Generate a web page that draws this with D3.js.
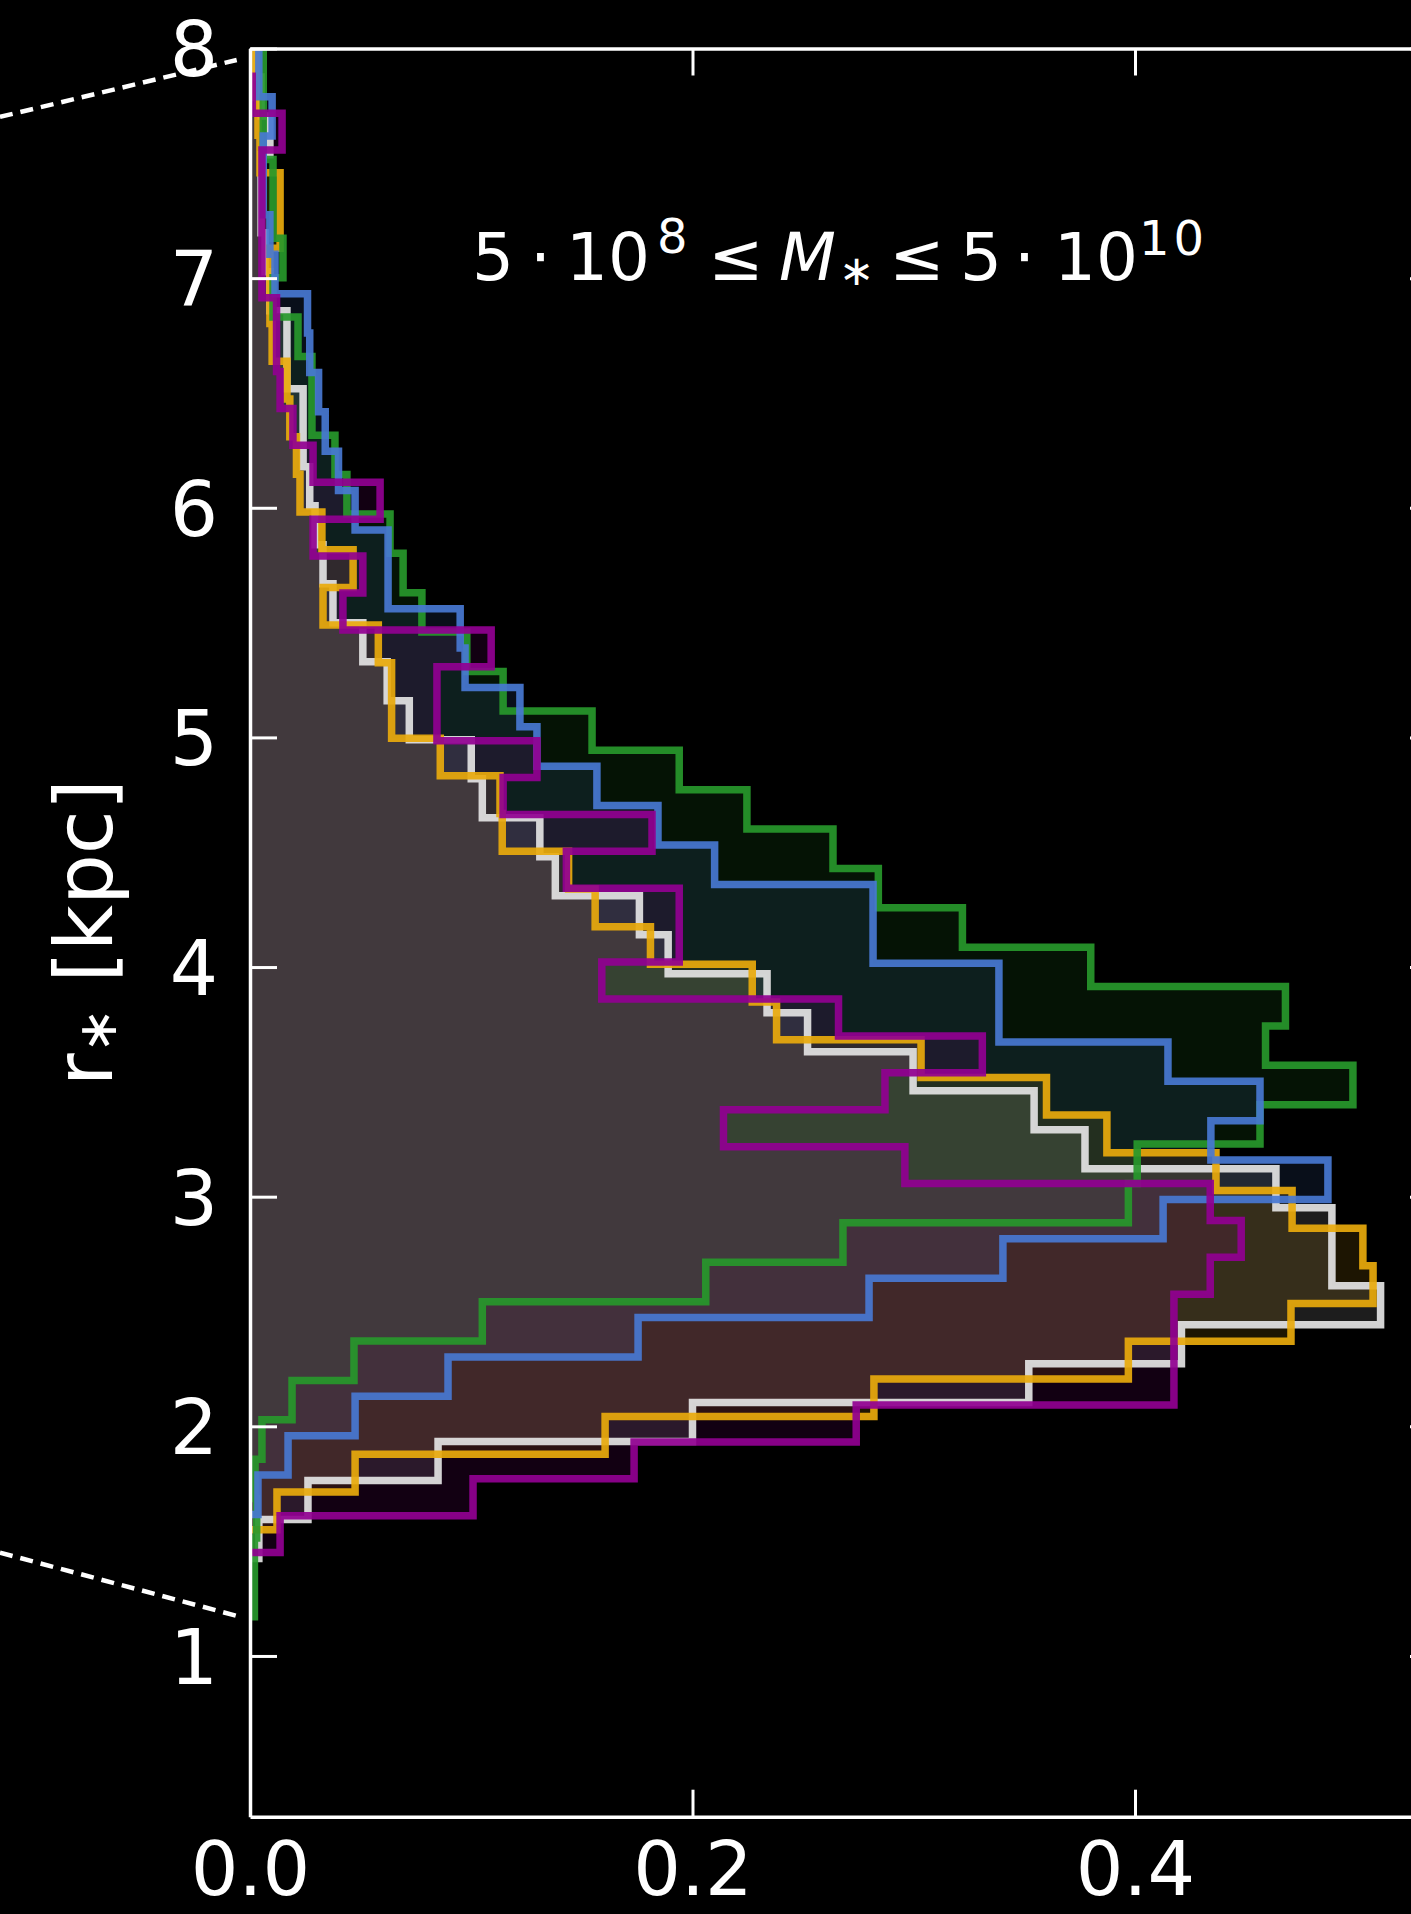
<!DOCTYPE html>
<html>
<head>
<meta charset="utf-8">
<script src="https://cdn.jsdelivr.net/npm/d3@7"></script>
<style>
  html, body { margin: 0; padding: 0; background: #000; }
  svg { display: block; }
</style>
</head>
<body>
<script>
// Radial distribution r* of five samples, each binned into 40 equal bins
// between that sample's own minimum and maximum radius (kpc).
const seriesNames  = ["white", "orange", "green", "blue", "purple"];
const seriesColors = ["#e4e4e4", "#e9aa0c", "#27982b", "#4878d3", "#910091"];
const rangeMin = [1.424, 1.550, 1.171, 1.616, 1.450];
const rangeMax = [8.216, 8.115, 8.031, 8.476, 7.879];

const whiteValues = [0.004, 0.0262, 0.085, 0.200, 0.352, 0.421, 0.511, 0.489, 0.489, 0.4637,
  0.3774, 0.3544, 0.2997, 0.252, 0.2337, 0.189, 0.176, 0.138, 0.131, 0.105,
  0.100, 0.072, 0.062, 0.051, 0.0375, 0.033, 0.0294, 0.027, 0.024, 0.024,
  0.0167, 0.0167, 0.009, 0.0068, 0.005, 0.005, 0.009, 0.005, 0.003, 0.002];
const orangeValues = [0.0122, 0.0475, 0.1605, 0.282, 0.397, 0.4705, 0.5076, 0.503, 0.471, 0.4366,
  0.3873, 0.360, 0.3033, 0.238, 0.227, 0.181, 0.156, 0.144, 0.114, 0.113,
  0.086, 0.064, 0.064, 0.058, 0.033, 0.0466, 0.0325, 0.0226, 0.021, 0.018,
  0.0167, 0.010, 0.009, 0.009, 0.0136, 0.0136, 0.0045, 0.0036, 0.0023, 0.0023];
const greenValues = [0.002, 0.002, 0.003, 0.0023, 0.0054, 0.019, 0.047, 0.105, 0.206, 0.268,
  0.397, 0.401, 0.4565, 0.4985, 0.459, 0.468, 0.380, 0.322, 0.284, 0.2635,
  0.2246, 0.194, 0.1546, 0.1144, 0.098, 0.0777, 0.0692, 0.0633, 0.0438, 0.0384,
  0.028, 0.028, 0.0217, 0.0104, 0.0149, 0.0104, 0.0104, 0.006, 0.006, 0.006];
const blueValues = [0.0036, 0.0172, 0.0475, 0.0895, 0.1754, 0.2798, 0.3403, 0.4127, 0.4872, 0.4343,
  0.4565, 0.4149, 0.3385, 0.3385, 0.2816, 0.2816, 0.210, 0.1844, 0.1568, 0.1297,
  0.122, 0.0972, 0.095, 0.0624, 0.0624, 0.0475, 0.040, 0.034, 0.031, 0.027,
  0.026, 0.0113, 0.009, 0.006, 0.006, 0.010, 0.004, 0.004, 0.003, 0.002];
const purpleValues = [0.0136, 0.1008, 0.1736, 0.274, 0.4176, 0.4176, 0.4176, 0.434, 0.448, 0.434,
  0.296, 0.214, 0.287, 0.331, 0.266, 0.159, 0.194, 0.194, 0.143, 0.1817,
  0.1144, 0.1297, 0.0845, 0.0845, 0.109, 0.042, 0.051, 0.0285, 0.0588, 0.0285,
  0.0194, 0.0136, 0.012, 0.012, 0.0054, 0.0054, 0.0054, 0.0054, 0.0145, 0.001];
const seriesValues = [whiteValues, orangeValues, greenValues, blueValues, purpleValues];

const xTicks = [0.0, 0.2, 0.4];
const yTicks = [1, 2, 3, 4, 5, 6, 7, 8];
const xDomain = [0, 0.5365];
const yDomain = [0.3, 8];

// zoom connectors coming in from the neighbouring panel on the left
const connectorTop    = [[-0.113, 7.702], [-0.006, 7.95]];
const connectorBottom = [[-0.113, 1.450], [-0.003, 1.167]];

const W = 1411, H = 1914;
const plot = { left: 250, right: 1437, top: 48.5, bottom: 1816.7 };
const FONT = "'DejaVu Sans', sans-serif";

const x = d3.scaleLinear().domain(xDomain).range([plot.left, plot.right]);
const y = d3.scaleLinear().domain(yDomain).range([plot.bottom, plot.top]);

const svg = d3.select("body").append("svg")
  .attr("width", W).attr("height", H)
  .attr("viewBox", `0 0 ${W} ${H}`);

svg.append("rect").attr("width", W).attr("height", H).attr("fill", "#000");

svg.append("defs").append("clipPath").attr("id", "plot-clip")
  .append("rect")
  .attr("x", plot.left).attr("y", plot.top)
  .attr("width", plot.right - plot.left).attr("height", plot.bottom - plot.top);

// step outline of a horizontal histogram: starts and ends on the x = 0 axis
function stepPoints(values, lo, hi) {
  const n = values.length;
  const edges = d3.range(n + 1).map(k => lo + k * (hi - lo) / n);
  const pts = [[0, edges[0]]];
  values.forEach((v, k) => { pts.push([v, edges[k]]); pts.push([v, edges[k + 1]]); });
  pts.push([0, edges[n]]);
  return pts;
}
const stepLine = d3.line().x(d => x(d[0])).y(d => y(d[1]));

const hist = svg.append("g").attr("clip-path", "url(#plot-clip)");
const shapes = seriesNames.map((name, i) => ({
  name, color: seriesColors[i],
  pts: stepPoints(seriesValues[i], rangeMin[i], rangeMax[i])
}));

hist.selectAll("path.fill").data(shapes).join("path")
  .attr("class", d => "fill " + d.name)
  .attr("d", d => stepLine(d.pts) + "Z")
  .attr("fill", d => d.color)
  .attr("fill-opacity", 0.125)
  .attr("stroke", "none");

hist.selectAll("path.edge").data(shapes).join("path")
  .attr("class", d => "edge " + d.name)
  .attr("d", d => stepLine(d.pts))
  .attr("fill", "none")
  .attr("stroke", d => d.color)
  .attr("stroke-opacity", 0.92)
  .attr("stroke-width", 7.5)
  .attr("stroke-linejoin", "miter");

// axes: ticks point inwards on all four sides
const TICK = 27;
function styleAxis(g) {
  g.select(".domain").attr("stroke", "#fff").attr("stroke-width", 3.5);
  g.selectAll(".tick line").attr("stroke", "#fff").attr("stroke-width", 3);
  g.selectAll(".tick text").attr("fill", "#fff")
    .style("font-family", FONT).style("font-size", "76px");
}

svg.append("g").attr("transform", `translate(0,${plot.bottom})`)
  .call(d3.axisBottom(x).tickValues(xTicks).tickFormat(d3.format(".1f"))
    .tickSizeInner(-TICK).tickSizeOuter(0).tickPadding(25))
  .call(styleAxis)
  .call(g => g.selectAll(".tick text").style("font-size", "75px"));

svg.append("g").attr("transform", `translate(0,${plot.top})`)
  .call(d3.axisTop(x).tickValues(xTicks).tickFormat("")
    .tickSizeInner(-TICK).tickSizeOuter(0))
  .call(styleAxis);

svg.append("g").attr("transform", `translate(${plot.left},0)`)
  .call(d3.axisLeft(y).tickValues(yTicks).tickFormat(d3.format("d"))
    .tickSizeInner(-TICK).tickSizeOuter(0).tickPadding(32))
  .call(styleAxis)
  .call(g => g.selectAll(".tick text").attr("dy", "0.36em"));

svg.append("g").attr("transform", `translate(${plot.right},0)`)
  .call(d3.axisRight(y).tickValues(yTicks).tickFormat("")
    .tickSizeInner(-TICK).tickSizeOuter(0))
  .call(styleAxis);

// y-axis label
const ylab = svg.append("text")
  .attr("transform", `translate(112,${(plot.top + plot.bottom) / 2}) rotate(-90)`)
  .attr("text-anchor", "middle")
  .attr("fill", "#fff")
  .style("font-family", FONT).style("font-size", "80px");
ylab.append("tspan").text("r");
ylab.append("tspan").attr("font-size", "54px").attr("dy", "4").text("\u2217");
ylab.append("tspan").attr("dy", "-4").text(" [kpc]");

// mass-range annotation
const note = svg.append("g").attr("fill", "#fff").style("font-family", FONT);
const notePieces = [
  { t: "5",      x: 472,   y: 280, size: 66, anchor: "start" },
  { t: "\u22C5", x: 540.5, y: 280, size: 66, anchor: "middle" },
  { t: "10",     x: 566,   y: 280, size: 66, anchor: "start" },
  { t: "8",      x: 657,   y: 253, size: 48, anchor: "start" },
  { t: "\u2264", x: 736,   y: 280, size: 66, anchor: "middle" },
  { t: "M",      x: 779,   y: 280, size: 66, anchor: "start", italic: true },
  { t: "\u2217", x: 856.5, y: 285, size: 42, anchor: "middle" },
  { t: "\u2264", x: 917,   y: 280, size: 66, anchor: "middle" },
  { t: "5",      x: 960,   y: 280, size: 66, anchor: "start" },
  { t: "\u22C5", x: 1024.5,y: 280, size: 66, anchor: "middle" },
  { t: "10",     x: 1054,  y: 280, size: 66, anchor: "start" },
  { t: "10",     x: 1139,  y: 255, size: 48, anchor: "start", spacing: 4 }
];
note.selectAll("text").data(notePieces).join("text")
  .attr("x", d => d.x).attr("y", d => d.y)
  .attr("text-anchor", d => d.anchor)
  .style("font-size", d => d.size + "px")
  .style("font-style", d => d.italic ? "oblique" : "normal")
  .style("letter-spacing", d => (d.spacing || 0) + "px")
  .text(d => d.t);

// dashed connector lines
const connLine = d3.line().x(d => x(d[0])).y(d => y(d[1]));
svg.selectAll("path.connector").data([connectorTop, connectorBottom]).join("path")
  .attr("class", "connector")
  .attr("d", connLine)
  .attr("fill", "none")
  .attr("stroke", "#fff")
  .attr("stroke-width", 4.5)
  .attr("stroke-dasharray", "13,8");
</script>
</body>
</html>
